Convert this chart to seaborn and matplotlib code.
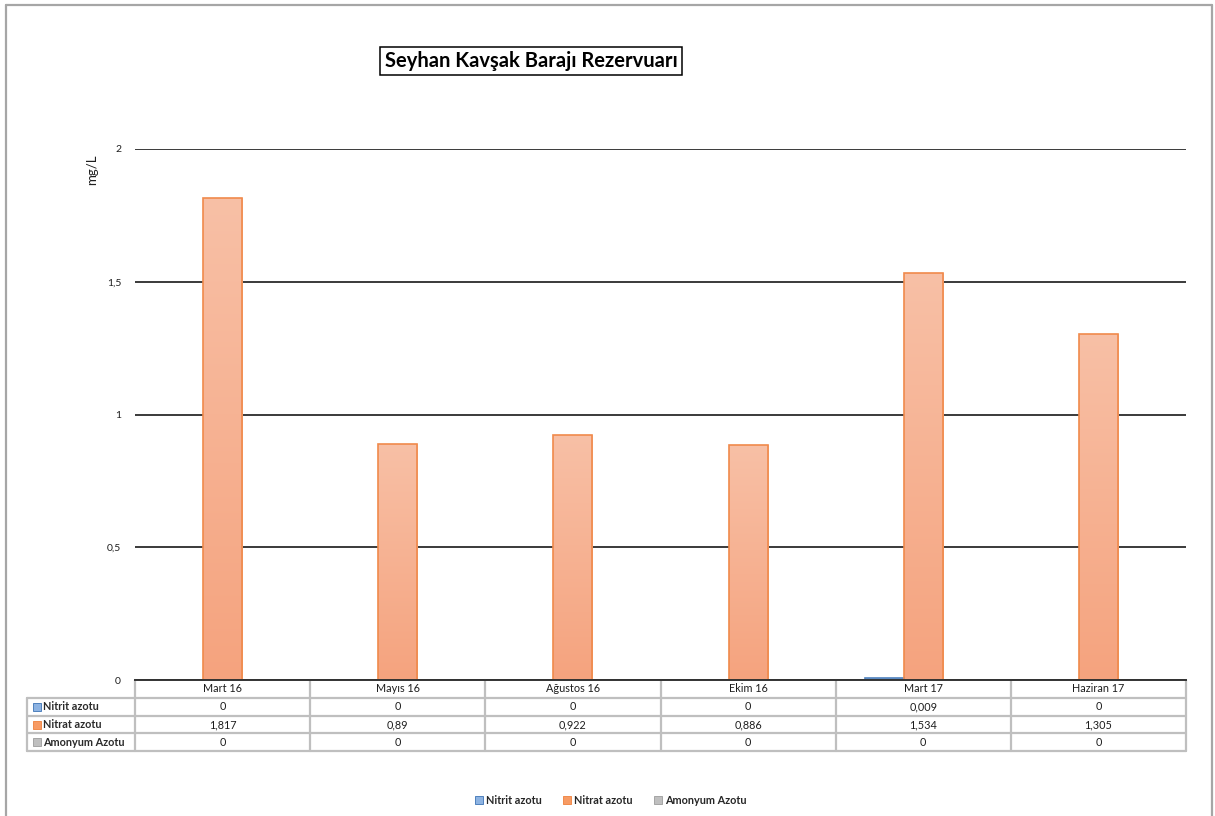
import numpy as np
import pandas as pd
import matplotlib
matplotlib.use("Agg")
import matplotlib.pyplot as plt
import matplotlib.transforms as mtransforms
from matplotlib.colors import LinearSegmentedColormap
from matplotlib.patches import Patch
from matplotlib.lines import Line2D
import seaborn as sns

# ---- data ----
categories = ["Mart 16", "Mayıs 16", "Ağustos 16", "Ekim 16", "Mart 17", "Haziran 17"]
series_names = ["Nitrit azotu", "Nitrat azotu", "Amonyum Azotu"]
nitrit = [0, 0, 0, 0, 0.009, 0]
nitrat = [1.817, 0.89, 0.922, 0.886, 1.534, 1.305]
amonyum = [0, 0, 0, 0, 0, 0]
y_ticks = [0, 0.5, 1, 1.5, 2]
y_tick_labels = ["0", "0,5", "1", "1,5", "2"]
title = "Seyhan Kavşak Barajı Rezervuarı"
y_label = "mg/L"

series_values = [nitrit, nitrat, amonyum]
df = pd.DataFrame({
    "Tarih": categories * 3,
    "Seri": sum([[s] * len(categories) for s in series_names], []),
    "Değer": nitrit + nitrat + amonyum,
})

# ---- style ----
edge_colors = {"Nitrit azotu": "#4F81BD", "Nitrat azotu": "#F08A4B", "Amonyum Azotu": "#A5A5A5"}
grad_colors = {
    "Nitrit azotu": ("#A9C4E4", "#7FA6D6"),
    "Nitrat azotu": ("#F8C0A6", "#F5A37E"),
    "Amonyum Azotu": ("#D0D0D0", "#B0B0B0"),
}
legend_fill = {"Nitrit azotu": "#8DB3E2", "Nitrat azotu": "#F79B64", "Amonyum Azotu": "#BFBFBF"}
text_c = "#1e1e1e"

sns.set_theme(style="white")
plt.rcParams["font.family"] = ["Lato", "DejaVu Sans"]

W, H = 1215, 816
fig = plt.figure(figsize=(W / 100, H / 100), dpi=100)
fig.patch.set_facecolor("white")


def fx(px):
    return px / W


def fy(py):
    return 1 - py / H


ax = fig.add_axes([fx(135), fy(680), fx(1186) - fx(135), fy(149) - fy(680)])

palette = {s: grad_colors[s][1] for s in series_names}
sns.barplot(data=df, x="Tarih", y="Değer", hue="Seri", hue_order=series_names,
            order=categories, palette=palette, width=0.67, dodge=True,
            legend=False, ax=ax, saturation=1, errorbar=None)

# gradient fill inside each bar
for cont, name in zip(ax.containers, series_names):
    top_c, bot_c = grad_colors[name]
    cmap = LinearSegmentedColormap.from_list(name, [bot_c, top_c])
    grad = np.linspace(0, 1, 256).reshape(-1, 1)
    for rect in cont.patches:
        h = rect.get_height()
        if h <= 0:
            rect.set_visible(False)
            continue
        x0, w = rect.get_x(), rect.get_width()
        rect.set_facecolor("none")
        rect.set_edgecolor(edge_colors[name])
        rect.set_linewidth(1.2)
        rect.set_zorder(3)
        im = ax.imshow(grad, cmap=cmap, origin="lower", aspect="auto",
                       extent=[x0, x0 + w, 0, h], zorder=2.8, interpolation="bilinear")
        im.set_clip_path(rect)

ax.set_xlim(-0.5, len(categories) - 0.5)
ax.set_ylim(0, 2)

# axes look
for side in ["left", "right", "top"]:
    ax.spines[side].set_visible(False)
ax.spines["bottom"].set_color("#333333")
ax.spines["bottom"].set_linewidth(1.4)
ax.spines["bottom"].set_zorder(4)
ax.set_yticks(y_ticks)
ax.set_yticklabels(y_tick_labels, fontsize=7.5, color=text_c)
ax.tick_params(axis="y", length=0, pad=10)
ax.set_xticks([])
ax.set_xlabel("")
ax.set_ylabel("")
ax.yaxis.grid(True, color="#333333", linewidth=1.35)
ax.set_axisbelow(True)

fig.text(fx(92), fy(170), y_label, rotation=90, ha="center", va="center",
         fontsize=9.5, color=text_c)

# title box
fig.text(fx(531), fy(61), title, ha="center", va="center", fontsize=14.5,
         fontweight="bold", color="black",
         bbox=dict(boxstyle="square,pad=0.22", facecolor="white", edgecolor="black", linewidth=1.1))

# ---- data table under the axis ----
trans = mtransforms.blended_transform_factory(ax.transData, ax.transAxes)
ax_h_px = 680 - 149
px_per_unit = (1186 - 135) / len(categories)
row_h = 17.8 / ax_h_px
n_rows = 1 + len(series_names)
x_left = -0.5
x_right = len(categories) - 0.5
x_label_left = x_left - (135 - 27) / px_per_unit
grid_c = "#BFBFBF"
lw_t = 1.6


def tline(xs, ys):
    ax.add_line(Line2D(xs, ys, transform=trans, color=grid_c, linewidth=lw_t,
                       clip_on=False, zorder=1))


y_bottom = -n_rows * row_h
for r in range(1, n_rows + 1):
    tline([x_label_left, x_right], [-r * row_h, -r * row_h])
for i in range(len(categories) + 1):
    tline([x_left + i, x_left + i], [0, y_bottom])
tline([x_label_left, x_label_left], [-row_h, y_bottom])


def fmt(v):
    return f"{v:g}".replace(".", ",")


for i, c in enumerate(categories):
    ax.text(i, -0.5 * row_h, c, transform=trans, ha="center", va="center",
            fontsize=7.8, color=text_c, clip_on=False)
for r, (name, vals) in enumerate(zip(series_names, series_values), start=1):
    yc = -(r + 0.5) * row_h
    for i, v in enumerate(vals):
        ax.text(i, yc, fmt(v), transform=trans, ha="center", va="center",
                fontsize=7.8, color=text_c, clip_on=False)
    sq_x = x_left - (135 - 37) / px_per_unit
    ax.plot([sq_x], [yc], marker="s", markersize=5.5, markerfacecolor=legend_fill[name],
            markeredgecolor=edge_colors[name], markeredgewidth=0.7, transform=trans,
            clip_on=False, linestyle="none")
    ax.text(x_left - (135 - 43) / px_per_unit, yc, name, transform=trans, ha="left",
            va="center", fontsize=7.8, fontweight="bold", color="#2a2a2a", clip_on=False)

# ---- legend ----
handles = [Patch(facecolor=legend_fill[s], edgecolor=edge_colors[s], linewidth=0.7, label=s)
           for s in series_names]
fig.legend(handles=handles, loc="center", bbox_to_anchor=(fx(611), fy(800)), ncol=3,
           frameon=False, handlelength=0.7, handleheight=0.7,
           handletextpad=0.3, columnspacing=2.0, prop={"weight": "bold", "size": 7.8})

# outer frame
for xs, ys in [([fx(6), fx(6)], [fy(5), 0]), ([fx(6), fx(1212)], [fy(5), fy(5)]),
               ([fx(1212), fx(1212)], [fy(5), 0])]:
    fig.add_artist(Line2D(xs, ys, color="#A6A6A6", linewidth=1.6, transform=fig.transFigure))

fig.savefig("out.png", dpi=100, facecolor="white")
